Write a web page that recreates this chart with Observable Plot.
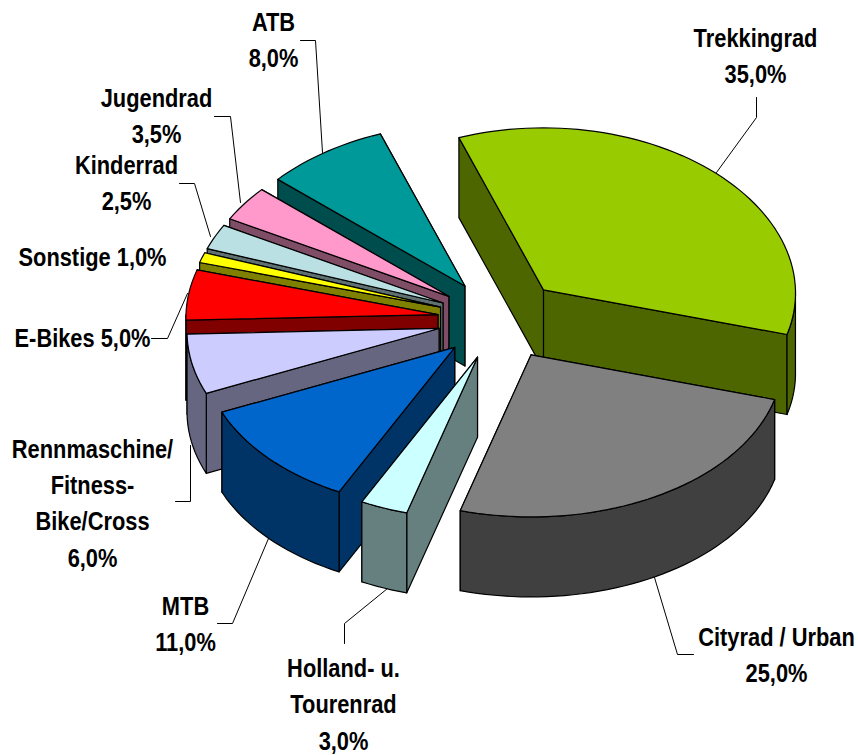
<!DOCTYPE html>
<html>
<head>
<meta charset="utf-8">
<style>html,body{margin:0;padding:0;background:#fff}svg{display:block}</style>
<script src="https://cdn.jsdelivr.net/npm/d3@7"></script>
<script src="https://cdn.jsdelivr.net/npm/@observablehq/plot@0.6"></script>
</head>
<body>
<div id="chart"></div>
<script>
// Data: shares in percent, clockwise
const categories = ["Trekkingrad","Cityrad / Urban","Holland- u. Tourenrad","MTB","Rennmaschine/ Fitness-Bike/Cross","E-Bikes","Sonstige","Kinderrad","Jugendrad","ATB"];
const shares = [35,25,3,11,6,5,1,2.5,3.5,8];
const topColors = ["#99CC00","#808080","#CCFFFF","#0066CC","#CCCCFF","#FF0000","#FFFF00","#BBE0E3","#FF99CC","#009999"];
const wallColors = ["#4D6600","#404040","#668080","#003366","#666680","#800000","#808000","#5E7072","#804D66","#004D4D"];
const labelTexts = ["Trekkingrad\n35,0%","Cityrad / Urban\n25,0%","Holland- u.\nTourenrad\n3,0%","MTB\n11,0%","Rennmaschine/\nFitness-\nBike/Cross\n6,0%","E-Bikes 5,0%","Sonstige 1,0%","Kinderrad\n2,5%","Jugendrad\n3,5%","ATB\n8,0%"];

// Layout of the exploded 3D pie
const W = 858, H = 755;
const cx = 500, cy = 319, rx = 252, ry = 162, depth = 80, explode = 0.25, startDeg = -20, perspective = 0.02;
const labelX = [755,776,343,185,92,82,92,126,156,273];
const labelY = [53,652,701,621,500,335,254,180,113,37];
const leaders = [
  [[756,97],[756,117],[716,172]],
  [[693,654],[677,654],[654,577]],
  [[344,643],[344,623],[387,588]],
  [[217,623],[232,623],[268,538]],
  [[175,501],[190,501],[190,445]],
  [[151,338],[167,338],[187,293]],
  [[179,183],[194,183],[210,236]],
  [[214,116],[230,116],[240,202]],
  [[300,40],[315,40],[322,152]]
];

const rad = d => d * Math.PI / 180;
const total = d3.sum(shares);
let acc = startDeg;
const slices = shares.map((v, i) => {
  const a0 = acc, a1 = acc + v / total * 360; acc = a1;
  const mid = rad((a0 + a1) / 2);
  const ox = cx + explode * rx * Math.sin(mid), oy = cy - explode * ry * Math.cos(mid);
  return {i, a0, a1, ox, oy};
});
const rim = (s, a, dz = 0) => {
  const t = rad(a), c = Math.cos(t);
  return {x: s.ox + rx * Math.sin(t) * (1 - perspective * c), y: s.oy - ry * c + dz};
};
const arc = (s, a0, a1, dz = 0) => {
  const n = Math.max(2, Math.ceil((a1 - a0) / 2)), p = [];
  for (let k = 0; k <= n; k++) p.push(rim(s, a0 + (a1 - a0) * k / n, dz));
  return p;
};
const closed = p => [...p, p[0]];
const face = (p, fill) => Plot.line(closed(p), {x: "x", y: "y", fill, stroke: "#000", strokeWidth: 1.2, strokeLinejoin: "round", curve: "linear"});

function sliceMarks(s) {
  const wall = wallColors[s.i], top = topColors[s.i], apex = {x: s.ox, y: s.oy};
  const apexLow = {x: s.ox, y: s.oy + depth};
  const marks = [];
  for (const a of [s.a1, s.a0]) {
    marks.push(face([apex, rim(s, a), rim(s, a, depth), apexLow], wall));
  }
  const v0 = Math.max(s.a0, 90), v1 = Math.min(s.a1, 270);
  if (v1 > v0) marks.push(face([...arc(s, v0, v1), ...arc(s, v0, v1, depth).reverse()], wall));
  marks.push(face([apex, ...arc(s, s.a0, s.a1)], top));
  return marks;
}

const drawOrder = [9,8,7,6,5,4,3,2,0,1];
const leaderRows = leaders.flatMap((l, i) => l.map(([x, y]) => ({x, y, i})));
const labelRows = labelTexts.map((t, i) => ({t, x: labelX[i], y: labelY[i]}));

const chart = Plot.plot({
  width: W, height: H,
  margin: 0,
  x: {domain: [0, W], range: [0, W], axis: null},
  y: {domain: [0, H], range: [0, H], axis: null},
  marks: [
    Plot.line(leaderRows, {x: "x", y: "y", z: "i", stroke: "#000", strokeWidth: 1, curve: "linear"}),
    ...drawOrder.flatMap(i => sliceMarks(slices[i])),
    Plot.text(labelRows, {x: "x", y: "y", text: "t", lineHeight: 1.4, fontSize: 26, fontWeight: "bold", fontFamily: "'Liberation Sans',Arial,sans-serif", fill: "#000", textAnchor: "middle"})
  ]
});
// The reference's labels are set in a condensed bold face: narrow them horizontally.
chart.querySelectorAll("text").forEach(t => {
  const tr = t.getAttribute("transform") || "";
  t.setAttribute("transform", tr + " scale(0.84,1)");
});
document.getElementById("chart").append(chart);
</script>
</body>
</html>
